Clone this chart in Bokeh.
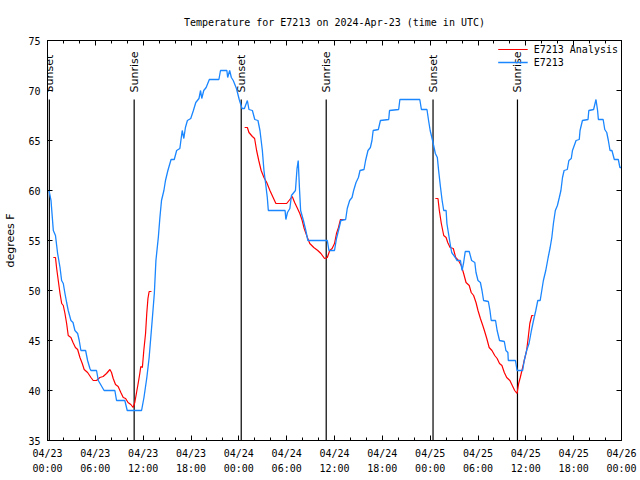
from bokeh.plotting import figure
from bokeh.models import FixedTicker, LinearAxis, Range1d, Legend, LegendItem
from bokeh.embed import file_html
from bokeh.resources import INLINE
from bokeh.core.properties import value
import math

# ---- data (hours since 2024-04-23 00:00 UTC) ----
obs_hours = [0.19, 0.44, 0.73, 1.0, 1.27, 1.57, 1.77, 1.98, 2.19, 2.4, 2.6, 2.94, 3.2, 3.44, 3.78,
             3.98, 4.19, 4.78, 5.03, 5.32, 5.45, 6.15, 6.37, 7.1, 8.45, 8.66, 9.7, 10.0, 11.8, 12.1,
             12.46, 12.75, 13.1, 13.4, 13.6, 13.9, 14.1, 14.3, 14.6, 14.8, 15.1, 15.5, 15.9, 16.2,
             16.6, 16.9, 17.1, 17.3, 17.55, 17.97, 18.3, 18.6, 19.0, 19.2, 19.35, 19.6, 19.9, 20.3,
             21.5, 21.7, 22.5, 22.6, 22.85, 23.06, 23.3, 23.7, 24.05, 24.4, 24.7, 25.07, 25.27, 25.7,
             26.0, 26.4, 26.65, 26.95, 27.15, 27.36, 27.57, 27.7, 29.8, 29.9, 30.1, 30.4, 30.6, 31.1,
             31.3, 31.45, 31.6, 31.75, 32.1, 32.4, 32.66, 35.1, 35.3, 36.0, 36.25, 36.5, 36.8, 37.4,
             37.6, 37.9, 38.2, 38.4, 38.7, 39.0, 39.2, 39.7, 39.9, 40.2, 40.5, 40.7, 40.85, 41.5,
             41.76, 42.8, 42.9, 44.05, 44.2, 46.7, 46.9, 47.6, 47.8, 48.0, 48.3, 48.65, 48.9, 49.06,
             49.27, 49.5, 49.7, 50.0, 50.1, 50.3, 50.5, 50.7, 51.15, 51.36, 51.8, 52.0, 52.2, 52.4,
             52.9, 53.2, 53.6, 53.75, 54.0, 54.3, 54.5, 54.7, 55.3, 55.5, 55.66, 56.2, 56.4, 56.7,
             57.3, 57.5, 57.75, 57.8, 58.7, 58.9, 59.6, 59.8, 60.1, 60.4, 60.7, 60.96, 61.25, 61.5,
             61.8, 62.0, 62.2, 62.5, 62.8, 63.05, 63.26, 63.46, 63.7, 63.96, 64.2, 64.4, 64.6, 64.8,
             65.2, 65.4, 65.7, 65.85, 66.3, 66.7, 66.8, 67.1, 67.8, 67.9, 68.5, 68.8, 69.0, 69.1,
             69.7, 69.9, 70.15, 70.35, 70.56, 70.8, 71.1, 71.6, 71.8, 72.0]
obs_temps = [60.0, 59.0, 56.0, 55.5, 53.7, 52.3, 51.0, 50.7, 49.7, 48.8, 48.0, 47.0, 46.8, 46.0, 45.7,
             45.0, 44.0, 44.0, 43.0, 42.2, 42.0, 42.0, 41.0, 40.0, 40.0, 39.0, 39.0, 38.0, 38.0, 39.3,
             41.3, 43.3, 46.7, 49.7, 53.0, 55.3, 57.3, 59.0, 60.0, 61.0, 62.0, 63.1, 63.1, 64.0,
             64.2, 66.0, 65.2, 66.3, 67.0, 67.2, 68.0, 68.8, 69.2, 70.0, 69.2, 70.0, 70.3, 71.1,
             71.1, 72.0, 72.0, 71.3, 72.0, 71.3, 71.0, 70.2, 69.1, 68.2, 68.2, 69.0, 68.1, 68.0,
             67.1, 67.0, 66.0, 64.0, 62.0, 60.7, 59.3, 58.0, 58.0, 57.1, 57.8, 58.2, 59.5, 60.0,
             62.2, 63.0, 60.3, 58.0, 57.0, 56.0, 55.0, 55.0, 54.0, 54.0, 55.2, 56.0, 57.0, 57.1,
             58.2, 59.0, 59.3, 60.0, 60.8, 61.3, 62.0, 62.1, 63.0, 64.0, 64.3, 65.0, 66.0, 66.1,
             67.0, 67.1, 68.0, 68.1, 69.1, 69.1, 68.1, 68.1, 67.0, 66.0, 65.0, 63.7, 63.3, 62.0,
             60.5, 59.0, 58.0, 58.0, 56.7, 55.7, 54.7, 53.8, 53.3, 53.0, 53.0, 52.0, 52.8, 53.9,
             53.9, 53.0, 52.8, 51.8, 51.0, 50.8, 50.0, 49.0, 48.9, 48.0, 47.0, 47.0, 46.0, 45.0,
             44.9, 44.0, 43.8, 43.0, 43.0, 42.0, 42.0, 43.0, 44.0, 44.7, 46.0, 47.0, 48.0, 49.0,
             49.0, 50.0, 51.0, 52.0, 53.3, 54.3, 55.3, 56.7, 58.0, 58.5, 59.3, 60.0, 61.3, 62.0,
             62.1, 63.0, 63.2, 64.0, 65.0, 65.1, 66.0, 67.0, 67.1, 68.0, 68.1, 69.1, 68.0, 67.1,
             67.1, 66.1, 65.8, 65.0, 64.0, 64.0, 63.1, 63.1, 62.3, 62.3]

ana1_hours = [0.73, 1.0, 1.15, 1.35, 1.57, 1.78, 1.98, 2.19, 2.4, 2.6, 2.94, 3.2, 3.5, 3.78, 4.07,
              4.36, 4.6, 5.03, 5.45, 5.73, 6.15, 6.57, 6.98, 7.4, 7.83, 8.03, 8.24, 8.53, 8.86, 9.2,
              9.5, 9.8, 10.1, 10.45, 10.74, 10.95, 11.17, 11.37, 11.58, 11.7, 11.9, 12.08, 12.3,
              12.45, 12.6, 12.75, 13.04]
ana1_temps = [53.3, 53.3, 52.2, 51.0, 49.7, 48.7, 48.5, 47.7, 46.7, 45.5, 45.3, 44.8, 44.3, 44.1, 43.3,
              42.7, 42.1, 41.8, 41.3, 41.0, 41.0, 41.3, 41.4, 41.7, 42.1, 41.8, 41.2, 40.6, 40.4, 39.8,
              39.3, 39.2, 38.8, 38.6, 38.3, 38.8, 39.8, 40.7, 41.7, 42.4, 42.3, 44.0, 45.7,
              47.7, 49.2, 49.9, 49.9]
ana2_hours = [24.73, 25.07, 25.27, 25.7, 25.98, 26.23, 26.5, 26.8, 27.15, 27.5, 27.9, 28.3, 28.65,
              29.24, 30.0, 30.3, 30.7, 31.0, 31.3, 31.65, 31.95, 32.2, 32.6, 32.9, 33.4, 33.9, 34.3,
              34.75, 35.1, 35.4, 35.7, 36.0, 36.25, 36.5, 36.75, 37.3]
ana2_temps = [66.3, 66.3, 65.8, 65.4, 65.2, 64.0, 63.0, 62.0, 61.3, 60.8, 60.0, 59.3, 58.7,
              58.7, 58.7, 59.0, 59.4, 58.8, 58.3, 57.7, 57.0, 56.2, 55.3, 54.7, 54.3, 54.0, 53.7,
              53.2, 53.3, 54.0, 54.2, 54.7, 55.7, 56.3, 57.1, 57.1]
ana3_hours = [48.65, 48.98, 49.15, 49.4, 49.7, 50.0, 50.2, 50.5, 50.9, 51.2, 51.55, 51.9, 52.2, 52.5,
              52.9, 53.15, 53.45, 53.75, 54.0, 54.3, 54.6, 54.8, 55.1, 55.4, 55.75, 56.1, 56.4, 56.7,
              57.0, 57.3, 57.6, 58.0, 58.3, 58.6, 58.9, 59.1, 59.3, 59.6, 59.8, 60.1, 60.3, 60.5,
              60.75, 60.96]
ana3_temps = [59.2, 59.2, 58.0, 56.7, 55.5, 55.3, 54.8, 54.3, 54.2, 53.3, 53.0, 52.5, 51.7, 50.8,
              50.5, 49.8, 49.5, 48.8, 48.0, 47.2, 46.5, 46.0, 45.2, 44.3, 44.0, 43.5, 43.2, 42.7,
              42.5, 41.8, 41.3, 41.0, 40.5, 40.0, 39.7, 40.7, 41.3, 42.3, 43.0, 44.0, 45.3, 46.7,
              47.5, 47.5]

sun_hours = [0.23, 10.87, 24.3, 34.96, 48.36, 58.95]
sun_labels = ["Sunset", "Sunrise", "Sunset", "Sunrise", "Sunset", "Sunrise"]

x_ticks = [0, 6, 12, 18, 24, 30, 36, 42, 48, 54, 60, 66, 72]
x_tick_labels = ["04/23\n00:00", "04/23\n06:00", "04/23\n12:00", "04/23\n18:00",
                 "04/24\n00:00", "04/24\n06:00", "04/24\n12:00", "04/24\n18:00",
                 "04/25\n00:00", "04/25\n06:00", "04/25\n12:00", "04/25\n18:00",
                 "04/26\n00:00"]
x_minor = list(range(0, 73, 2))
y_ticks = [35, 40, 45, 50, 55, 60, 65, 70, 75]

MONO = "DejaVu Sans Mono"
SANS = "DejaVu Sans"
BLUE = "#1a86ff"
RED = "#ff0000"

p = figure(width=640, height=480, output_backend="svg", toolbar_location=None,
           x_range=Range1d(0, 72), y_range=Range1d(35, 75),
           min_border_left=47, min_border_right=19, min_border_top=40, min_border_bottom=40,
           title="Temperature for E7213 on 2024-Apr-23 (time in UTC)")
p.title.align = "center"
p.title.text_font = MONO
p.title.text_font_size = "10px"
p.title.text_font_style = "normal"
p.title.text_color = "black"
p.title.standoff = 25
p.xgrid.visible = False
p.ygrid.visible = False
p.outline_line_color = "black"
p.outline_line_width = 1

xt = FixedTicker(ticks=x_ticks, minor_ticks=x_minor)
yt = FixedTicker(ticks=y_ticks, minor_ticks=[])

def style_axis(ax, hidden=False):
    ax.axis_line_color = "black"
    ax.major_tick_in = 5
    ax.major_tick_out = 0
    ax.minor_tick_in = 3
    ax.minor_tick_out = 0
    ax.major_tick_line_color = "black"
    ax.minor_tick_line_color = "black"
    ax.major_label_text_font = MONO
    ax.major_label_text_font_size = "10px"
    ax.major_label_text_color = "black"
    if hidden:
        ax.major_label_text_color = None
        ax.major_label_text_font_size = "1px"
        ax.major_label_standoff = 0

xa = p.xaxis[0]
xa.ticker = xt
xa.major_label_overrides = {t: l for t, l in zip(x_ticks, x_tick_labels)}
style_axis(xa)
xa.major_label_standoff = 7
xa.major_label_text_line_height = 1.4

ya = p.yaxis[0]
ya.ticker = yt
style_axis(ya)
ya.major_label_standoff = 7
ya.axis_label = "degrees F"
ya.axis_label_text_font = SANS
ya.axis_label_text_font_size = "11px"
ya.axis_label_text_font_style = "normal"
ya.axis_label_text_color = "black"
ya.axis_label_standoff = 8

top = LinearAxis(ticker=xt)
style_axis(top, hidden=True)
p.add_layout(top, "above")
right = LinearAxis(ticker=yt)
style_axis(right, hidden=True)
p.add_layout(right, "right")

# sunrise / sunset markers
p.segment(x0=sun_hours, y0=[35] * len(sun_hours), x1=sun_hours, y1=[69.1] * len(sun_hours),
          line_color="black", line_width=1.2)
p.text(x=sun_hours, y=[69.8] * len(sun_hours), text=sun_labels, angle=math.pi / 2,
       text_align="left", text_baseline="middle", text_font=value(SANS),
       text_font_size="11px", text_color="black")

r_a1 = p.line(ana1_hours, ana1_temps, line_color=RED, line_width=1.2)
p.line(ana2_hours, ana2_temps, line_color=RED, line_width=1.2)
p.line(ana3_hours, ana3_temps, line_color=RED, line_width=1.2)
r_obs = p.line(obs_hours, obs_temps, line_color=BLUE, line_width=1.3)

legend = Legend(items=[LegendItem(label="E7213 Analysis", renderers=[r_a1]),
                       LegendItem(label="E7213", renderers=[r_obs])],
                location="top_right", border_line_color=None, background_fill_alpha=0,
                label_text_font=MONO, label_text_font_size="10px", label_text_color="black",
                glyph_width=30, glyph_height=12, label_height=12, spacing=1,
                padding=2, margin=3, label_standoff=6)
p.add_layout(legend)

open("out.html", "w").write(file_html(p, INLINE))
